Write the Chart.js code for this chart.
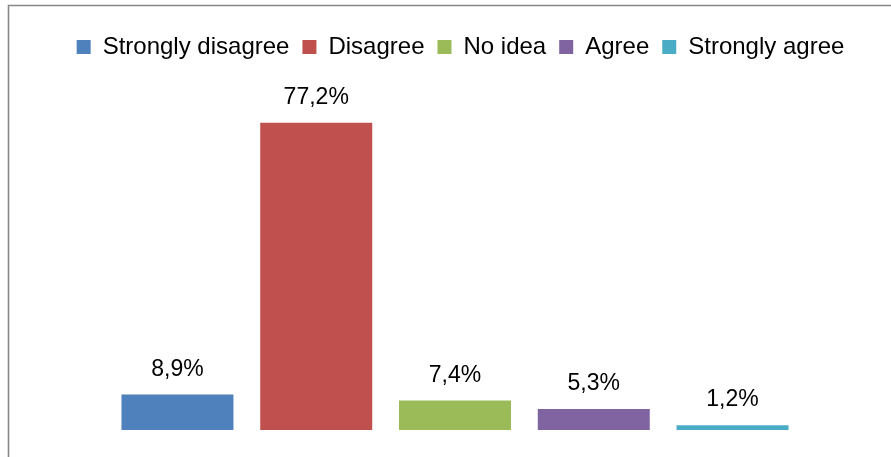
<!DOCTYPE html>
<html>
<head>
<meta charset="utf-8">
<script src="https://cdn.jsdelivr.net/npm/chart.js@4"></script>
<style>
  html, body { margin: 0; padding: 0; background: #fff; overflow: hidden; }
  #answers_chart { display: block; }
</style>
</head>
<body>
<canvas id="answers_chart" width="891" height="457"></canvas>
<script>
// data
const seriesNames = ['Strongly disagree', 'Disagree', 'No idea', 'Agree', 'Strongly agree'];
const seriesValues = [8.9, 77.2, 7.4, 5.3, 1.2];
const seriesColors = ['#4F81BD', '#C0504D', '#9BBB59', '#8064A2', '#4BACC6'];
const categoryLabels = [''];

const FONT = "'Liberation Sans', Arial, sans-serif";

// gray frame of the chart box (only left and top edges are in view)
const framePlugin = {
  id: 'frame',
  beforeDraw(chart) {
    const ctx = chart.ctx;
    ctx.save();
    ctx.strokeStyle = '#878787';
    ctx.lineWidth = 1.6;
    ctx.beginPath();
    ctx.moveTo(8.5, chart.height + 5);
    ctx.lineTo(8.5, 5.5);
    ctx.lineTo(chart.width + 5, 5.5);
    ctx.stroke();
    ctx.restore();
  }
};

// value labels above each bar, "77,2%" style
const valueLabels = {
  id: 'valueLabels',
  afterDatasetsDraw(chart) {
    const ctx = chart.ctx;
    ctx.save();
    ctx.font = '23px ' + FONT;
    ctx.fillStyle = '#000';
    ctx.textAlign = 'center';
    ctx.textBaseline = 'alphabetic';
    chart.data.datasets.forEach((ds, i) => {
      const bar = chart.getDatasetMeta(i).data[0];
      const txt = ds.data[0].toFixed(1).replace('.', ',') + '%';
      ctx.fillText(txt, bar.x, bar.y - 19);
    });
    ctx.restore();
  }
};

const datasets = seriesNames.map((name, i) => ({
  label: name,
  data: [seriesValues[i]],
  backgroundColor: seriesColors[i],
  borderWidth: 0,
  categoryPercentage: 0.826,
  barPercentage: 0.807
}));

const ctx = document.getElementById('answers_chart');
new Chart(ctx, {
  type: 'bar',
  data: { labels: categoryLabels, datasets },
  options: {
    responsive: false,
    animation: false,
    layout: { padding: { left: 35, right: 5, top: 22, bottom: 27 } },
    plugins: {
      legend: {
        position: 'top',
        labels: {
          boxWidth: 14,
          boxHeight: 14,
          padding: 13,
          color: '#000',
          font: { family: FONT, size: 24 }
        }
      },
      tooltip: { enabled: false }
    },
    scales: {
      x: { display: false },
      y: {
        position: 'right',
        min: 0,
        max: 90.7,
        grid: { display: false },
        border: { display: false },
        ticks: { display: false },
        // empty strip on the right so the bars sit left of the legend centre
        afterFit(scale) { scale.width = 11; }
      }
    }
  },
  plugins: [framePlugin, valueLabels]
});
</script>
</body>
</html>
